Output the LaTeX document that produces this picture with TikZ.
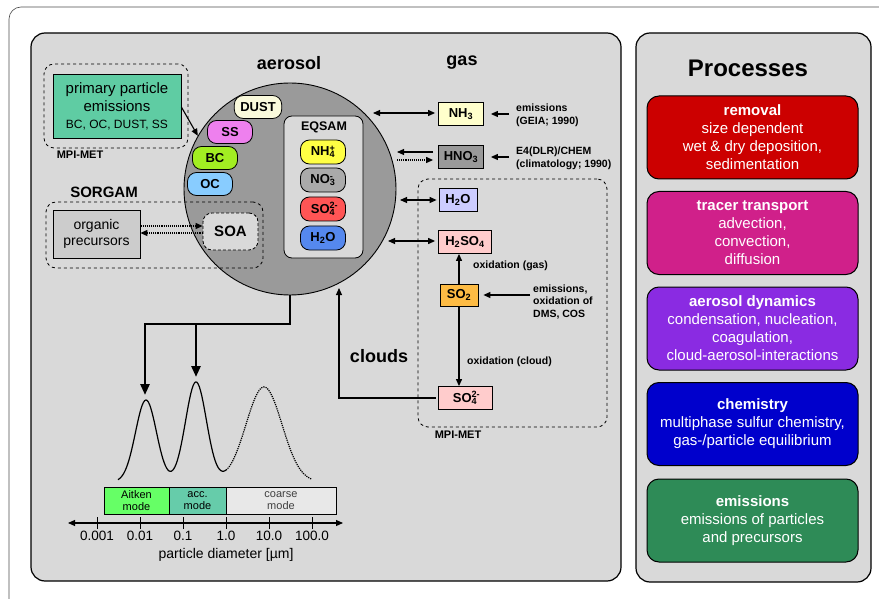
\documentclass[tikz,border=0pt]{standalone}
\usepackage{fontspec}
\setmainfont{Liberation Sans}
\usetikzlibrary{arrows.meta,positioning}

\definecolor{panelgray}{HTML}{D9D9D9}
\definecolor{circgray}{HTML}{9A9A9A}
\definecolor{precgray}{HTML}{CCCCCC}
\definecolor{primgreen}{HTML}{5FCCA3}
\definecolor{dustc}{HTML}{FAFADC}
\definecolor{ssc}{HTML}{EE80EE}
\definecolor{bcc}{HTML}{A2EE22}
\definecolor{occ}{HTML}{88CCFF}
\definecolor{nh4c}{HTML}{FFFF44}
\definecolor{no3c}{HTML}{AAAAAA}
\definecolor{so4c}{HTML}{FF5555}
\definecolor{h2oc}{HTML}{5588EE}
\definecolor{nh3c}{HTML}{FFFFCC}
\definecolor{hno3c}{HTML}{999999}
\definecolor{h2ogc}{HTML}{CCCCFF}
\definecolor{pinkc}{HTML}{FFCCCC}
\definecolor{so2c}{HTML}{FDBB44}
\definecolor{aitc}{HTML}{66FF66}
\definecolor{accc}{HTML}{66CCAA}
\definecolor{coarsec}{HTML}{E8E8E8}
\definecolor{remc}{HTML}{CC0000}
\definecolor{trac}{HTML}{D0208A}
\definecolor{dync}{HTML}{8A2BE2}
\definecolor{chemc}{HTML}{0000CC}
\definecolor{emic}{HTML}{2E8B57}

\newcommand\chemion[3]{#1\rlap{\textsuperscript{#3}}\textsubscript{#2}}
\newcommand\fsz[2]{\fontsize{#1}{#2}\selectfont}

\begin{document}
\begin{tikzpicture}[x=1pt,y=-1pt,
  panel/.style={draw, fill=panelgray, line width=1.2pt, rounded corners=14pt},
  dashbox/.style={draw, dashed, rounded corners=10pt, line width=0.8pt},
  title/.style={font=\bfseries\fsz{18}{20}},
  lbl/.style={font=\bfseries\fsz{11}{12}},
  pill/.style={draw, line width=0.8pt, rounded corners=9pt, minimum width=45, minimum height=23, inner xsep=6pt, inner ysep=0pt, font=\bfseries\fsz{13}{14}},
  gasbox/.style={draw, line width=0.8pt, minimum height=23, inner sep=3pt, font=\bfseries\fsz{13}{14}},
  note/.style={anchor=west, align=left, inner sep=0pt, font=\bfseries\fsz{10.5}{12.5}},
  mode/.style={draw, line width=0.8pt, minimum height=27, inner sep=0pt, align=center, font=\fsz{11}{12}},
  proc/.style={draw, line width=1pt, rounded corners=12pt, minimum width=211, minimum height=83, text=white, align=center, font=\fsz{15}{18}},
  arr/.style={-{Triangle[length=7pt,width=6pt]}, line width=1.1pt},
  dbl/.style={{Triangle[length=7pt,width=6pt]}-{Triangle[length=7pt,width=6pt]}, line width=1.1pt},
  bigarr/.style={-{Triangle[length=11pt,width=9pt]}, line width=2.6pt},
]
  \useasboundingbox (0,0) rectangle (879,599);

  % Frame and the two panels
  \draw[gray!60!black, line width=0.6pt, rounded corners=12pt] (9,599) -- (9,7) -- (879,7);
  \draw[panel] (31,33) rectangle (621,581);
  \draw[panel] (636,33) rectangle (871,582);

  \node[title] (taer) at (289,63) {aerosol};
  \node[title] (tgas) at (462,63) {gas};

  % Primary emissions
  \node[dashbox, minimum width=144, minimum height=84] (mpia) at (116,106) {};
  \node[draw, line width=0.8pt, fill=primgreen, minimum width=128, minimum height=64, align=center, font=\fsz{15}{18}] (prim) at (117,106)
    {primary particle\\emissions\\[-1pt]{\fsz{12}{14}BC, OC, DUST, SS}};
  \node[lbl] (lmpia) at (80,155) {MPI-MET};

  % The aerosol particle
  \node[circle, draw, line width=0.9pt, fill=circgray, minimum size=212, inner sep=0pt] (aer) at (290,189) {};
  \draw[arr] (prim.east |- 0,107) -- (aer.150);

  \foreach \n/\x/\y/\c in {DUST/258/107/dustc, SS/230/132/ssc, BC/215/158/bcc, OC/210/184/occ}
    \node[pill, fill=\c] (p\n) at (\x,\y) {\n};

  % EQSAM block
  \node[draw, line width=0.8pt, fill=panelgray, rounded corners=8pt, minimum width=79, minimum height=142] (eqsam) at (323.5,187) {};
  \node[font=\bfseries\fsz{12.5}{14}] (leq) at (324,127) {EQSAM};
  \foreach \n/\y/\c/\t in {nh4/152/nh4c/{\chemion{NH}{4}{+}}, no3/180/no3c/{\chemion{NO}{3}{-}},
                           so4/209/so4c/{\chemion{SO}{4}{2-}}, h2o/238/h2oc/{H\textsubscript{2}O}}
    \node[pill, fill=\c, minimum height=24] (i\n) at (323,\y) {\t};

  % SORGAM
  \node[font=\bfseries\fsz{15}{16}] (lsorg) at (104,192) {SORGAM};
  \node[dashbox, minimum width=217, minimum height=66] (sorg) at (154.5,235) {};
  \node[draw, line width=0.8pt, fill=precgray, minimum width=87, minimum height=48, align=center, font=\fsz{14}{16}] (prec) at (96.5,234) {organic\\precursors};
  \node[draw, densely dashed, line width=0.8pt, fill=panelgray, rounded corners=9pt, minimum width=55, minimum height=37, font=\bfseries\fsz{15}{16}] (soa) at (230.5,231.5) {SOA};
  \draw[arr, densely dotted] ([yshift=8pt]prec.east) -- ([yshift=8pt]prec.east -| soa.west);
  \draw[arr, densely dotted] ([yshift=1pt]prec.east -| soa.west) -- ([yshift=1pt]prec.east);

  % Gas phase
  \node[dashbox, minimum width=189, minimum height=248] (mpib) at (512.5,303) {};
  \node[lbl] (lmpib) at (458,435) {MPI-MET};

  \node[gasbox, fill=nh3c, minimum width=45] (nh3) at (461,114) {NH\textsubscript{3}};
  \node[gasbox, fill=hno3c, minimum width=45] (hno3) at (461,157) {HNO\textsubscript{3}};
  \node[gasbox, fill=h2ogc, minimum width=38] (h2o) at (458,200) {H\textsubscript{2}O};
  \node[gasbox, fill=pinkc, minimum width=53] (h2so4) at (465,242) {H\textsubscript{2}SO\textsubscript{4}};
  \node[gasbox, fill=so2c, minimum width=38, minimum height=22] (so2) at (459,295) {SO\textsubscript{2}};
  \node[gasbox, fill=pinkc, minimum width=54] (so4) at (465,398) {\chemion{SO}{4}{2-}};

  \node[note] (enh3) at (516,115.5) {emissions\\(GEIA; 1990)};
  \node[note] (ehno3) at (516,158.5) {E4(DLR)/CHEM\\(climatology; 1990)};
  \node[note] (eso2) at (533,302) {emissions,\\oxidation of\\DMS, COS};
  \node[note] (oxg) at (473,266) {oxidation (gas)};
  \node[note] (oxc) at (467,362) {oxidation (cloud)};

  \draw[arr, shorten <=7pt, shorten >=7pt] (nh3.east -| enh3.west) -- (nh3.east);
  \draw[arr, shorten <=7pt, shorten >=7pt] (hno3.east -| ehno3.west) -- (hno3.east);
  \draw[arr, shorten <=3pt, shorten >=5pt] (so2.east -| eso2.west) -- (so2.east);

  % Exchange with the particle
  \coordinate (gnh3) at (373,113);
  \coordinate (ghno3a) at (397,152);
  \coordinate (ghno3b) at (397,160);
  \coordinate (gh2o) at (400,200);
  \coordinate (gh2so4) at (388,241);
  \draw[dbl, shorten >=3pt] (gnh3) -- (gnh3 -| nh3.west);
  \draw[arr, shorten <=5pt] (ghno3a -| hno3.west) -- (ghno3a);
  \draw[arr, densely dotted, shorten >=5pt] (ghno3b) -- (ghno3b -| hno3.west);
  \draw[dbl, shorten >=2pt] (gh2o) -- (gh2o -| h2o.west);
  \draw[dbl, shorten >=3pt] (gh2so4) -- (gh2so4 -| h2so4.west);

  \draw[arr] (so2.north) -- (so2.north |- h2so4.south);
  \draw[arr] (so2.south) -- (so2.south |- so4.north);

  % Clouds
  \coordinate (cl) at (339,288);
  \draw[arr, shorten <=2pt] (so4.west) -| (cl);
  \node[title] (lcl) at (379,356) {clouds};

  % Size distribution
  \coordinate (split) at (196,324);
  \coordinate (pkA) at (145,395);
  \coordinate (pkB) at (196,377);
  \draw[bigarr] (aer.south) -- (aer.south |- split) -- (pkA |- split) -- (pkA);
  \draw[bigarr] (split) -- (pkB);

  \draw[line width=1.2pt] plot[domain=118:226, samples=90]
    (\x,{482-82*exp(-0.5*((\x-146)/10.5)^2)-100*exp(-0.5*((\x-196)/10.5)^2)-95*exp(-0.5*((\x-264)/18)^2)});
  \draw[line width=1.2pt, densely dotted] plot[domain=226:312, samples=70]
    (\x,{482-82*exp(-0.5*((\x-146)/10.5)^2)-100*exp(-0.5*((\x-196)/10.5)^2)-95*exp(-0.5*((\x-264)/18)^2)});

  \node[mode, fill=aitc, minimum width=65] (mait) at (136.5,500.5) {Aitken\\mode};
  \node[mode, fill=accc, minimum width=57] (macc) at (197.5,500.5) {acc.\\mode};
  \node[mode, fill=coarsec, minimum width=110, text=black!75] (mcoa) at (281,500.5) {coarse\\mode};

  \coordinate (axl) at (68,523);
  \coordinate (axr) at (343,523);
  \draw[dbl] (axl) -- (axr);
  \foreach \x/\v in {97/0.001, 140/0.01, 183/0.1, 226/1.0, 269/10.0, 312/100.0}
    \draw[line width=0.9pt] (\x,517) -- (\x,529) node[below, inner sep=2pt, font=\fsz{13.5}{15}] (t\x) {\v};
  \node[font=\fsz{14}{16}] (xlab) at (226,555) {particle diameter [µm]};

  % Processes
  \node[font=\bfseries\fsz{24}{26}] (tproc) at (748,68) {Processes};
  \foreach \y/\c/\n/\t in {
      137.5/remc/rem/{\textbf{removal}\\size dependent\\wet \& dry deposition,\\sedimentation},
      233/trac/tra/{\textbf{tracer transport}\\advection,\\convection,\\diffusion},
      328.5/dync/dyn/{\textbf{aerosol dynamics}\\condensation, nucleation,\\coagulation,\\cloud-aerosol-interactions},
      424/chemc/chem/{\textbf{chemistry}\\multiphase sulfur chemistry,\\gas-/particle equilibrium},
      520.5/emic/emi/{\textbf{emissions}\\emissions of particles\\and precursors}}
    \node[proc, fill=\c] (\n) at (752.5,\y) {\t};
\end{tikzpicture}
\end{document}
